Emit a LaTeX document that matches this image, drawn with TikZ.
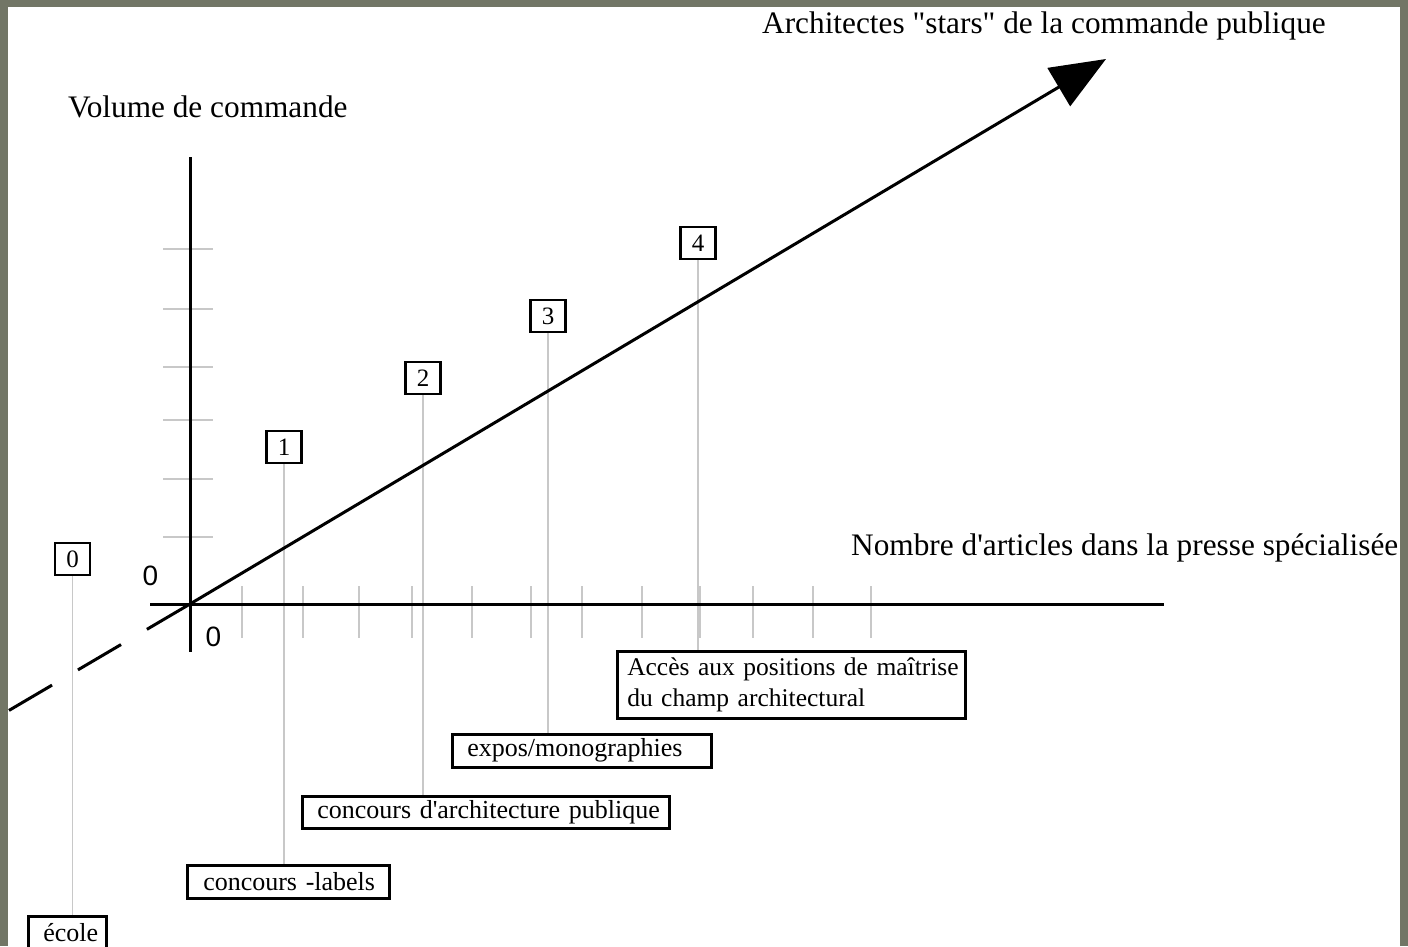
\documentclass[tikz,border=0pt]{standalone}
\usepackage{fontspec}
\setmainfont{Liberation Serif}[Ligatures=TeXOff]
\newfontfamily\axisfont{Liberation Sans}
\usetikzlibrary{arrows.meta}
\definecolor{stone}{RGB}{114,118,102}
\definecolor{leadgray}{RGB}{200,200,200}
\tikzset{
  axisline/.style={line width=3pt, black},
  tickline/.style={line width=1.5pt, leadgray},
  leaderline/.style={line width=1.5pt, leadgray},
  numbox/.style={draw, line width=2.5pt, minimum width=35pt, minimum height=32pt, inner sep=0pt, font=\fontsize{25}{28}\selectfont},
  labelbox/.style={draw, line width=2.5pt, anchor=north west, align=left, inner ysep=0pt, font=\fontsize{26}{31}\selectfont},
  titletext/.style={anchor=base west, inner sep=0pt, font=\fontsize{31.3}{36}\selectfont},
  zerotext/.style={inner sep=0pt, font=\axisfont\fontsize{28}{32}\selectfont},
}
\begin{document}
\begin{tikzpicture}[x=1pt,y=-1pt]
\useasboundingbox (0,0) rectangle (1408,946);
\fill[stone] (0,0) rectangle (1408,946);
\fill[white] (8,7) rectangle (1400,946);
\clip (8,7) rectangle (1400,946);

% named points
\coordinate (O) at (190,604);
\coordinate (ytop) at (190,157);
\coordinate (ybot) at (190,652);
\coordinate (xleft) at (150,604);
\coordinate (xright) at (1164,604);
\coordinate (tip) at (1106,59);
\coordinate (dend) at (8,711);

% ticks
\foreach \y in {249,309,367,420,479,537}
  \draw[tickline] (163,\y) -- (213,\y);
\foreach \x in {242,303,359,412,472,531,582,642,700,753,813,871}
  \draw[tickline] (\x,586) -- (\x,638);

% number boxes
\node[numbox] (n0) at (72.5,559) {0};
\node[numbox] (n1) at (284,447) {1};
\node[numbox] (n2) at (423,378) {2};
\node[numbox] (n3) at (548,316) {3};
\node[numbox] (n4) at (698,243) {4};

% label boxes
\node[labelbox, text width=48pt, inner xsep=15pt, minimum height=32pt] (l0) at (27,915) {\mbox{école}};
\node[labelbox, text width=170pt, inner xsep=16pt, minimum height=33pt] (l1) at (186,864) {\mbox{concours -labels}};
\node[labelbox, text width=337pt, inner xsep=15pt, minimum height=32pt] (l2) at (301,795) {\mbox{concours d'architecture publique}};
\node[labelbox, text width=229pt, inner xsep=15pt, minimum height=33pt] (l3) at (451,733) {\mbox{expos/monographies}};
\node[labelbox, text width=328pt, inner xsep=10pt, minimum height=67pt, font=\fontsize{25.5}{31}\selectfont] (l4) at (616,650) {\mbox{Accès aux positions de maîtrise}\\\mbox{du champ architectural}};

% leader lines
\foreach \i in {0,...,4}
  \draw[leaderline] (n\i.south) -- (n\i.south |- l\i.north);

% axes
\draw[axisline] (ytop) -- (ybot);
\draw[axisline] (xleft) -- (xright);
\draw[axisline, -{Triangle[length=55pt,width=44pt]}] (O) -- (tip);
\draw[axisline, dash pattern=on 50pt off 30pt] (O) -- (dend);

% texts
\node[titletext] (ylabel) at (68,117) {Volume de commande};
\node[titletext] (dlabel) at (762,33) {Architectes "stars" de la commande publique};
\node[titletext] (xlabel) at (851,555) {Nombre d'articles dans la presse spécialisée};
\node[zerotext] (zy) at (150.5,576) {0};
\node[zerotext] (zx) at (213.5,636.5) {0};
\end{tikzpicture}
\end{document}
